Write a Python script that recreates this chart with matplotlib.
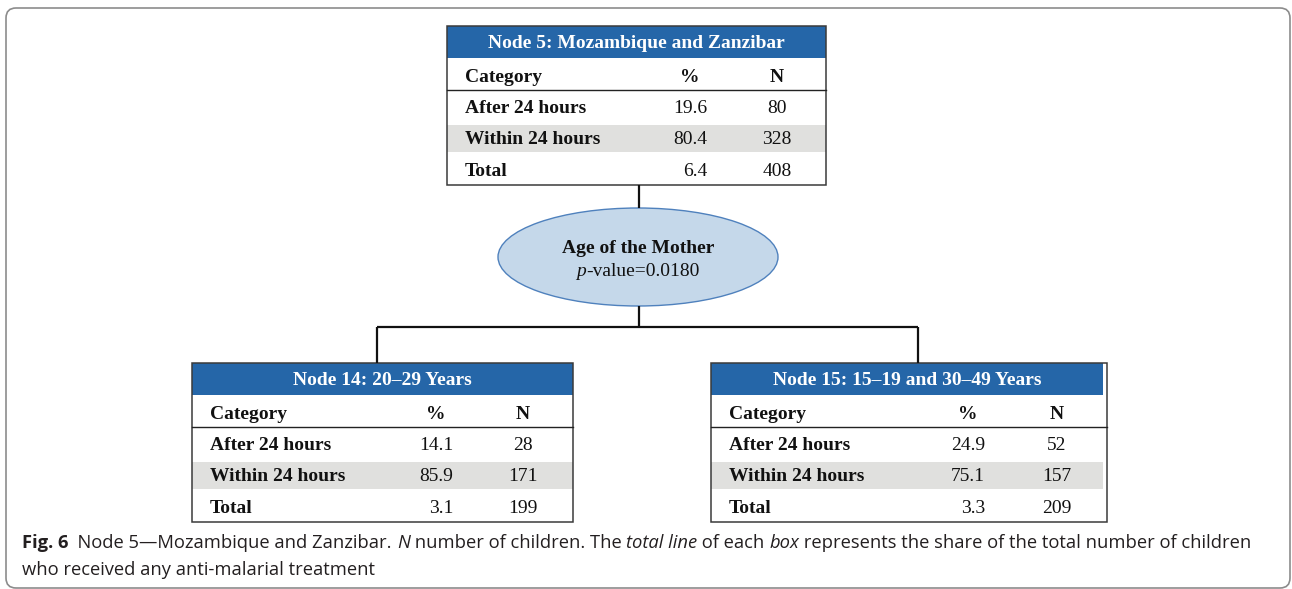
import matplotlib
matplotlib.use("Agg")
import matplotlib.pyplot as plt
from matplotlib.patches import Rectangle, Ellipse, FancyBboxPatch

# --- data ---
categories = ["After 24 hours", "Within 24 hours", "Total"]
node_titles = ["Node 5: Mozambique and Zanzibar",
               "Node 14: 20\u201329 Years",
               "Node 15: 15\u201319 and 30\u201349 Years"]
pct_node5 = [19.6, 80.4, 6.4]
n_node5 = [80, 328, 408]
pct_node14 = [14.1, 85.9, 3.1]
n_node14 = [28, 171, 199]
pct_node15 = [24.9, 75.1, 3.3]
n_node15 = [52, 157, 209]
split_variable = "Age of the Mother"
p_value = 0.0180
caption_line1 = [("Fig. 6", "bold"), ("  Node 5\u2014Mozambique and Zanzibar. ", "normal"),
                 ("N", "italic"), (" number of children. The ", "normal"),
                 ("total line", "italic"), (" of each ", "normal"), ("box", "italic"),
                 (" represents the share of the total number of children", "normal")]
caption_line2 = [("who received any anti-malarial treatment", "normal")]

W, H = 1292, 589
BLUE = "#2566a8"
BAND = "#e0e0de"
SERIF = "Liberation Serif"
SANS = ["Liberation Sans Narrow", "Open Sans", "DejaVu Sans"]

fig = plt.figure(figsize=(W / 100, H / 100), dpi=100)
ax = fig.add_axes([0, 0, 1, 1])
ax.set_xlim(0, W)
ax.set_ylim(H, 0)
ax.axis("off")
renderer = fig.canvas.get_renderer()


def text_width(s, **kw):
    # measure with bars so leading/trailing spaces count
    t1 = ax.text(0, 0, "|" + s + "|", **kw)
    t2 = ax.text(0, 0, "||", **kw)
    w = t1.get_window_extent(renderer).width - t2.get_window_extent(renderer).width
    t1.remove()
    t2.remove()
    return w


def draw_runs(x, y, runs, size, family, color="#231f20", ha="left"):
    styles = {"normal": dict(fontweight="normal", fontstyle="normal"),
              "bold": dict(fontweight="bold", fontstyle="normal"),
              "italic": dict(fontweight="normal", fontstyle="italic")}
    widths = [text_width(s, fontsize=size, family=family, **styles[st]) for s, st in runs]
    if ha == "center":
        x -= sum(widths) / 2
    for (s, st), w in zip(runs, widths):
        ax.text(x, y, s, fontsize=size, family=family, color=color, va="baseline",
                ha="left", **styles[st])
        x += w
    return sum(widths)


def node_box(left, right, top, title, pct, n, pct_right, n_x, inner_right=None):
    if inner_right is None:
        inner_right = right
    ax.add_patch(Rectangle((left, top), inner_right - left, 32, fc=BLUE, ec="none"))
    ax.add_patch(Rectangle((left, top + 99), inner_right - left, 27, fc=BAND, ec="none"))
    ax.plot([left, right], [top + 64, top + 64], color="#222222", lw=1.0)
    ax.add_patch(Rectangle((left, top), right - left, 159, fc="none", ec="#3a3a3a", lw=1.1))
    ax.text((left + inner_right) / 2, top + 22, title, color="white", fontsize=14,
            fontweight="bold", family=SERIF, ha="center", va="baseline")
    cat_x = left + 18
    ax.text(cat_x, top + 56, "Category", fontsize=14, fontweight="bold", family=SERIF,
            va="baseline", color="#111111")
    ax.text(pct_right - 17, top + 56, "%", fontsize=14, fontweight="bold", family=SERIF,
            va="baseline", ha="center", color="#111111")
    ax.text(n_x, top + 56, "N", fontsize=14, fontweight="bold", family=SERIF,
            va="baseline", ha="center", color="#111111")
    for i, (cat, p, k) in enumerate(zip(categories, pct, n)):
        yb = top + [87, 118, 150][i]
        ax.text(cat_x, yb, cat, fontsize=14, fontweight="bold", family=SERIF,
                va="baseline", color="#111111")
        ax.text(pct_right, yb, f"{p:.1f}", fontsize=14, family=SERIF,
                va="baseline", ha="right", color="#111111")
        ax.text(n_x, yb, f"{k}", fontsize=14, family=SERIF,
                va="baseline", ha="center", color="#111111")


# outer frame
ax.add_patch(FancyBboxPatch((6, 8), 1284, 580, boxstyle="round,pad=0,rounding_size=10",
                            fc="none", ec="#8c8c8c", lw=1.2, clip_on=False))

# connectors
line_kw = dict(color="#111111", lw=1.6, solid_capstyle="butt")
ax.plot([639, 639], [185, 208], **line_kw)
ax.plot([639, 639], [306, 327], **line_kw)
ax.plot([377, 918], [327, 327], **line_kw)
ax.plot([377, 377], [327, 363], **line_kw)
ax.plot([918, 918], [327, 363], **line_kw)

# boxes
node_box(447, 826, 26, node_titles[0], pct_node5, n_node5, 707, 777)
node_box(192, 573, 363, node_titles[1], pct_node14, n_node14, 453, 523)
node_box(711, 1107, 363, node_titles[2], pct_node15, n_node15, 985, 1057, inner_right=1103)

# split ellipse
ax.add_patch(Ellipse((638, 257), 280, 98, fc="#c5d8ea", ec="#4f81bd", lw=1.0))
ax.text(638, 253, split_variable, fontsize=14, fontweight="bold", family=SERIF,
        ha="center", va="baseline", color="#111111")
draw_runs(638, 276, [("p", "italic"), ("-value=" + f"{p_value:.4f}", "normal")],
          14, SERIF, color="#111111", ha="center")

# caption, sized to span the same width as the original
base = 10
w1 = sum(text_width(s, fontsize=base, family=SANS,
                    fontweight="bold" if st == "bold" else "normal",
                    fontstyle="italic" if st == "italic" else "normal")
         for s, st in caption_line1)
cap_size = base * 1225 / w1
draw_runs(22, 548, caption_line1, cap_size, SANS)
draw_runs(22, 575, caption_line2, cap_size, SANS)

fig.savefig("out.png", dpi=100)
